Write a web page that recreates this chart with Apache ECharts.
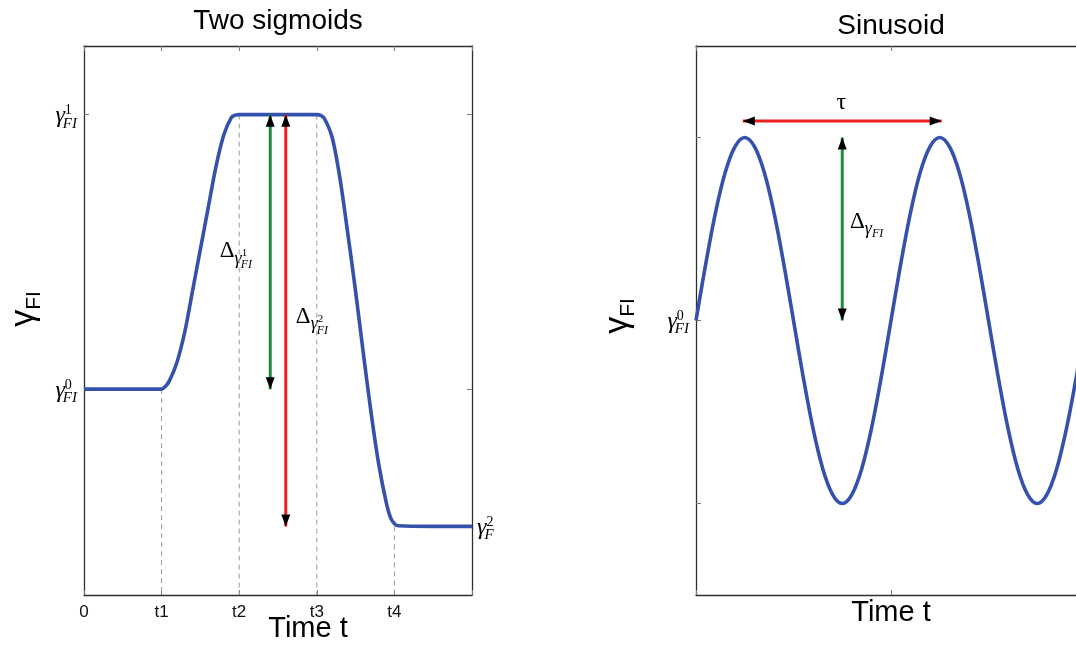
<!DOCTYPE html>
<html>
<head>
<meta charset="utf-8">
<script src="https://cdn.jsdelivr.net/npm/echarts@6/dist/echarts.min.js"></script>
<style>
html,body{margin:0;padding:0;background:#ffffff;}
#c{width:1076px;height:649px;}
</style>
</head>
<body>
<div id="c"></div>
<script>
// ================= DATA =================
// Left panel: two sigmoids
const xTickLabels = ['0', 't1', 't2', 't3', 't4'];
const sigT = [0, 0.5, 1.0, 1.05, 1.1, 1.2, 1.3, 1.4, 1.5, 1.6, 1.7, 1.8, 1.9, 1.95, 2.0, 2.5, 3.0, 3.05, 3.1, 3.2, 3.3, 3.4, 3.5, 3.6, 3.7, 3.8, 3.9, 3.95, 4.0, 4.05, 4.5, 5.0];
const sigY = [0, 0, 0, 0.01, 0.03, 0.1, 0.21, 0.36, 0.51, 0.66, 0.81, 0.925, 0.99, 0.998, 1, 1, 1, 0.997, 0.985, 0.915, 0.765, 0.566, 0.356, 0.13, -0.087, -0.277, -0.42, -0.468, -0.49, -0.498, -0.5, -0.5];
const gammaLevels = [0, 1, -0.5];          // γ0_FI, γ1_FI, γ2_F
const dropT = [1, 2, 3, 4];                 // dashed guide lines at t1..t4
const dropTop = [0, 1, 1, -0.5];
const arrowX = [2.4, 2.6];                  // green, red vertical arrows
const arrowLow = [0, -0.5];
const arrowHigh = [1, 1];

// Right panel: sinusoid
const sinT = [0, 0.05, 0.1, 0.15, 0.2, 0.25, 0.3, 0.35, 0.4, 0.45, 0.5, 0.55, 0.6, 0.65, 0.7, 0.75, 0.8, 0.85, 0.9, 0.95, 1.0, 1.05, 1.1, 1.15, 1.2, 1.25, 1.3, 1.35, 1.4, 1.45, 1.5, 1.55, 1.6, 1.65, 1.7, 1.75, 1.8, 1.85, 1.9, 1.95, 2.0];
const sinY = [0, 0.31, 0.59, 0.81, 0.95, 1, 0.95, 0.81, 0.59, 0.31, 0, -0.31, -0.59, -0.81, -0.95, -1, -0.95, -0.81, -0.59, -0.31, 0, 0.31, 0.59, 0.81, 0.95, 1, 0.95, 0.81, 0.59, 0.31, 0, -0.31, -0.59, -0.81, -0.95, -1, -0.95, -0.81, -0.59, -0.31, 0];
const ampArrowX = 0.75;
const ampArrow = [0, 1];
const periodArrowT = [0.24, 1.26];
const periodArrowY = 1.09;
const sinTicks = [-1, 0, 1];

// ================= STYLE =================
const SANS = '"Liberation Sans", Arial, Helvetica, sans-serif';
const SERIF = '"Liberation Serif", "Times New Roman", serif';
const BLUE = '#3451ab';
const GREEN = '#1f8c3b';
const RED = '#ee2020';
const FRAME = '#2e2e2e';

const chart = echarts.init(document.getElementById('c'), null, {renderer: 'canvas'});

function frameAxis(extra) {
  return Object.assign({
    type: 'value',
    axisLine: {show: true, onZero: false, lineStyle: {color: FRAME, width: 1.3}},
    axisTick: {show: true, inside: true, length: 5, lineStyle: {color: '#7a7a7a', width: 1}},
    axisLabel: {show: false},
    splitLine: {show: false}
  }, extra);
}

const headSize = [9, 12];
function arrowSeries(xi, yi, pts, color, rot, off) {
  return {
    type: 'line', xAxisIndex: xi, yAxisIndex: yi, z: 5,
    data: pts.map((p, i) => ({value: p, symbolRotate: rot[i], symbolOffset: off[i]})),
    showSymbol: true, symbol: 'triangle', symbolSize: headSize,
    itemStyle: {color: '#000', borderWidth: 0},
    lineStyle: {color: color, width: 3, cap: 'butt'},
    emphasis: {disabled: true}, silent: true, clip: false
  };
}

const series = [];
dropT.forEach((t, i) => {
  series.push({
    type: 'line', xAxisIndex: 0, yAxisIndex: 0, z: 1,
    data: [[t, dropTop[i]], [t, -0.75]],
    showSymbol: false, symbol: 'none',
    lineStyle: {color: '#9a9a9a', width: 1, type: [5, 4]},
    emphasis: {disabled: true}, silent: true
  });
});
series.push({
  type: 'line', xAxisIndex: 0, yAxisIndex: 0, z: 3,
  data: sigT.map((t, i) => [t, sigY[i]]),
  smooth: 0.3, showSymbol: false, symbol: 'none',
  lineStyle: {color: BLUE, width: 3.6},
  emphasis: {disabled: true}, silent: true
});
const vColors = [GREEN, RED];
arrowX.forEach((x, i) => {
  series.push(arrowSeries(0, 0, [[x, arrowLow[i]], [x, arrowHigh[i]]], vColors[i],
    [180, 0], [[0, -headSize[1] / 2], [0, headSize[1] / 2]]));
});
series.push({
  type: 'line', xAxisIndex: 2, yAxisIndex: 2, z: 3,
  data: sinT.map((t, i) => [t, sinY[i]]),
  smooth: 0.35, showSymbol: false, symbol: 'none',
  lineStyle: {color: BLUE, width: 3.6},
  emphasis: {disabled: true}, silent: true
});
series.push(arrowSeries(2, 2, [[ampArrowX, ampArrow[0]], [ampArrowX, ampArrow[1]]], GREEN,
  [180, 0], [[0, -headSize[1] / 2], [0, headSize[1] / 2]]));
series.push(arrowSeries(2, 2, [[periodArrowT[0], periodArrowY], [periodArrowT[1], periodArrowY]], RED,
  [90, -90], [[headSize[1] / 2, 0], [-headSize[1] / 2, 0]]));

chart.setOption({
  animation: false,
  backgroundColor: '#ffffff',
  grid: [
    {left: 84, top: 46, width: 388, height: 549, outerBoundsMode: 'none', containLabel: false},
    {left: 696, top: 46, width: 390, height: 549, outerBoundsMode: 'none', containLabel: false}
  ],
  xAxis: [
    frameAxis({gridIndex: 0, position: 'bottom', min: 0, max: 5, interval: 1,
      axisLabel: {show: true, margin: 9, fontSize: 17, fontFamily: SANS, color: '#111',
        showMinLabel: true, showMaxLabel: true,
        formatter: v => (xTickLabels[Math.round(v)] !== undefined ? xTickLabels[Math.round(v)] : '')}}),
    frameAxis({gridIndex: 0, position: 'top', min: 0, max: 5, interval: 1}),
    frameAxis({gridIndex: 1, position: 'bottom', min: 0, max: 2, interval: 1}),
    frameAxis({gridIndex: 1, position: 'top', min: 0, max: 2, interval: 1})
  ],
  yAxis: [
    frameAxis({gridIndex: 0, position: 'left', min: -0.75, max: 1.25,
      axisTick: {show: true, inside: true, length: 5, customValues: gammaLevels.slice(0, 2), lineStyle: {color: '#7a7a7a', width: 1}}}),
    frameAxis({gridIndex: 0, position: 'right', min: -0.75, max: 1.25,
      axisTick: {show: true, inside: true, length: 5, customValues: gammaLevels.slice(0, 2), lineStyle: {color: '#7a7a7a', width: 1}}}),
    frameAxis({gridIndex: 1, position: 'left', min: -1.5, max: 1.5,
      axisTick: {show: true, inside: true, length: 5, customValues: sinTicks, lineStyle: {color: '#7a7a7a', width: 1}}}),
    frameAxis({gridIndex: 1, position: 'right', min: -1.5, max: 1.5,
      axisTick: {show: true, inside: true, length: 5, customValues: sinTicks, lineStyle: {color: '#7a7a7a', width: 1}}})
  ],
  series: series
});

// ================= math-like text labels =================
const meas = document.createElement('canvas').getContext('2d');
function tw(text, size, fam, it) {
  meas.font = (it ? 'italic ' : '') + size + 'px ' + fam;
  return meas.measureText(text).width;
}
function mathText(tokens, opts) {
  let cx = 0;
  const children = [];
  tokens.forEach(tk => {
    const list = tk.stack ? tk.stack : [tk];
    let adv = 0;
    list.forEach(p => {
      const fam = p.fam || SERIF;
      const w = tw(p.t, p.size, fam, p.it);
      children.push({
        type: 'text', silent: true, x: cx + (p.dx || 0), y: p.dy || 0,
        style: {text: p.t, fontSize: p.size, fontFamily: fam, fontStyle: p.it ? 'italic' : 'normal',
          fill: '#000', align: 'left', verticalAlign: 'middle'}
      });
      adv = Math.max(adv, w + (p.dx || 0));
    });
    cx += adv;
  });
  const shift = opts.align === 'right' ? -cx : (opts.align === 'center' ? -cx / 2 : 0);
  children.forEach(c => { c.x += shift; });
  return {type: 'group', x: opts.x, y: opts.y, rotation: opts.rotation || 0, children: children};
}
const gammaTok = (sup, sub) => [
  {t: 'γ', size: 24, it: true, dy: 1.5},
  {stack: [{t: sup, size: 14, dy: -4}, {t: sub, size: 15, it: true, dy: 9, dx: -2}]}
];
const deltaTok = (sup) => [
  {t: 'Δ', size: 23, dy: 0},
  {t: 'γ', size: 18, it: true, dy: 8},
  {stack: [{t: sup, size: 11, dy: 2}, {t: 'FI', size: 12, it: true, dy: 14, dx: -1}]}
];
const px = (panel, x, y) => chart.convertToPixel(
  {xAxisIndex: panel === 0 ? 0 : 2, yAxisIndex: panel === 0 ? 0 : 2}, [x, y]);

const G = [];
// panel titles and axis names
const plain = (text, x, y, size) => ({type: 'text', silent: true, x: x, y: y,
  style: {text: text, fontSize: size, fontFamily: SANS, fill: '#000', align: 'center', verticalAlign: 'middle'}});
G.push(plain('Two sigmoids', 278, 21.5, 28));
G.push(plain('Sinusoid', 891, 26.5, 28));
G.push(plain('Time t', 308, 629, 29));
G.push(plain('Time t', 891, 613, 29));
const yName = [{t: 'γ', size: 34, fam: SANS}, {t: 'FI', size: 21, fam: SANS, dy: 10}];
G.push(mathText(yName, {x: 24, y: 309, rotation: Math.PI / 2, align: 'center'}));
G.push(mathText(yName, {x: 618, y: 316, rotation: Math.PI / 2, align: 'center'}));

// γ level labels, left panel
[['0', gammaLevels[0]], ['1', gammaLevels[1]]].forEach(([s, v]) => {
  const p = px(0, 0, v);
  G.push(mathText(gammaTok(s, 'FI'), {x: p[0] - 7, y: p[1], align: 'right'}));
});
{
  const p = px(0, 5, gammaLevels[2]);
  G.push(mathText(gammaTok('2', 'F'), {x: p[0] + 5, y: p[1], align: 'left'}));
}
{
  const p = px(1, 0, 0);
  G.push(mathText(gammaTok('0', 'FI'), {x: p[0] - 7, y: p[1], align: 'right'}));
}
// Δ labels
{
  const p1 = px(0, 1.75, 0.504);
  G.push(mathText(deltaTok('1'), {x: p1[0], y: p1[1], align: 'left'}));
  const p2 = px(0, 2.73, 0.264);
  G.push(mathText(deltaTok('2'), {x: p2[0], y: p2[1], align: 'left'}));
  const p3 = px(1, 0.79, 0.54);
  G.push(mathText([{t: 'Δ', size: 23}, {t: 'γ', size: 18, it: true, dy: 8}, {t: 'FI', size: 12, it: true, dy: 12}],
    {x: p3[0], y: p3[1], align: 'left'}));
  const p4 = px(1, 0.745, 1.19);
  G.push(mathText([{t: 'τ', size: 24}], {x: p4[0], y: p4[1], align: 'center'}));
}
chart.setOption({graphic: G});
</script>
</body>
</html>
